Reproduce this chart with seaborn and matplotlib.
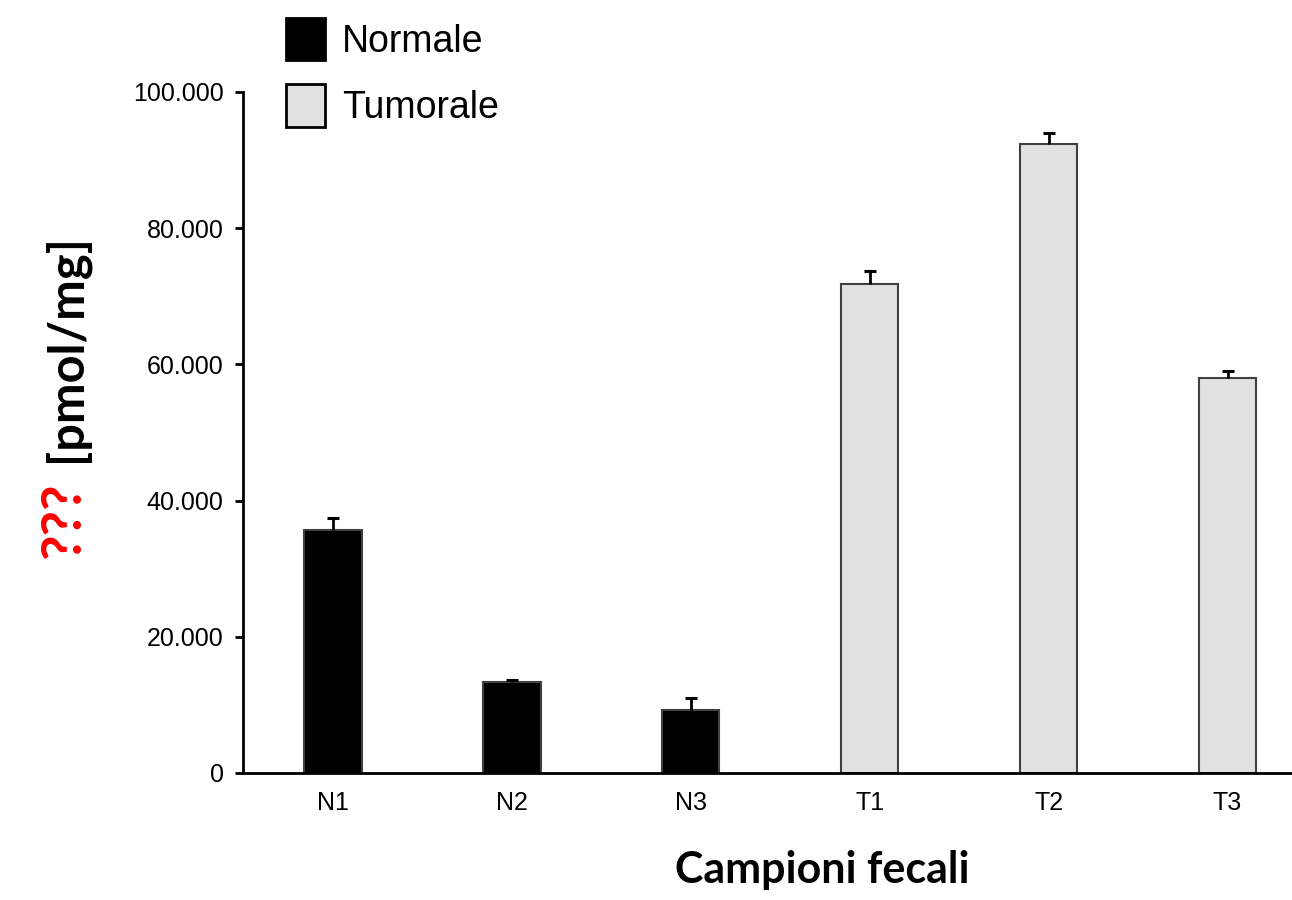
import numpy as np
import pandas as pd
import seaborn as sns
import matplotlib.pyplot as plt
from matplotlib.ticker import FuncFormatter

# values
samples = ["N1", "N2", "N3", "T1", "T2", "T3"]
groups = ["Normale", "Normale", "Normale", "Tumorale", "Tumorale", "Tumorale"]
values = [35700, 13400, 9250, 71800, 92400, 58000]
errors = [1800, 300, 1800, 1900, 1600, 1000]
yticks = [0, 20000, 40000, 60000, 80000, 100000]

df = pd.DataFrame({"Campione": samples, "Gruppo": groups, "Valore": values})

sns.set_style("ticks")
plt.rcParams["font.family"] = ["Liberation Sans", "DejaVu Sans"]
plt.rcParams.update({
    "text.color": "black",
    "axes.labelcolor": "black",
    "xtick.color": "black",
    "ytick.color": "black",
})

fig = plt.figure(figsize=(12.92, 9), dpi=100)
ax = fig.add_axes([243 / 1292, 127 / 900, 1049 / 1292, 681 / 900])

palette = {"Normale": "#000000", "Tumorale": "#E1E1E1"}
sns.barplot(data=df, x="Campione", y="Valore", hue="Gruppo", palette=palette,
            dodge=False, width=0.32, edgecolor="#404040", linewidth=1.5,
            saturation=1, ax=ax)

# upper error bars only
eb = ax.errorbar(np.arange(len(samples)), values,
                 yerr=[np.zeros(len(errors)), errors],
                 fmt="none", ecolor="black", elinewidth=2, capsize=4.5, capthick=2.2)
eb[1][0].set_visible(False)  # hide lower caps

ax.set_xlim(-0.503, 5.36)
ax.set_ylim(0, 100000)
ax.set_yticks(yticks)
ax.yaxis.set_major_formatter(FuncFormatter(lambda v, p: f"{v:,.0f}".replace(",", ".")))
ax.tick_params(axis="y", labelsize=18, length=6, width=2, pad=8, color="black",
               labelcolor="black")
ax.tick_params(axis="x", labelsize=18, length=0, pad=13, labelcolor="black")
ax.set_xlabel("")
ax.set_ylabel("")
for s in ["top", "right"]:
    ax.spines[s].set_visible(False)
for s in ["left", "bottom"]:
    ax.spines[s].set_linewidth(2)
    ax.spines[s].set_color("black")

handles, labels = ax.get_legend_handles_labels()
leg = ax.legend(handles, labels, loc="upper left",
                bbox_to_anchor=(286 / 1292, 1 - 18 / 900),
                bbox_transform=fig.transFigure, frameon=False, fontsize=27,
                handlelength=1.05, handleheight=1.35, handletextpad=0.45,
                labelspacing=0.65, borderpad=0, borderaxespad=0)
for h in leg.get_patches():
    h.set_edgecolor("black")
    h.set_linewidth(2)
for t in leg.get_texts():
    t.set_color("black")

# axis titles
fig.text(822 / 1292, 1 - 870 / 900, "Campioni fecali", ha="center", va="center",
         fontsize=31, fontweight="bold", family="Lato", color="black")
fig.text(66 / 1292, 1 - 348 / 900, "[pmol/mg]", rotation=90, ha="center", va="center",
         fontsize=35, fontweight="bold", family="Lato", color="black")
fig.text(64 / 1292, 1 - 521 / 900, "???", rotation=90, ha="center", va="center",
         fontsize=40, fontweight="bold", family="Lato", color="#FF0000")

fig.savefig("out.png", dpi=100)
